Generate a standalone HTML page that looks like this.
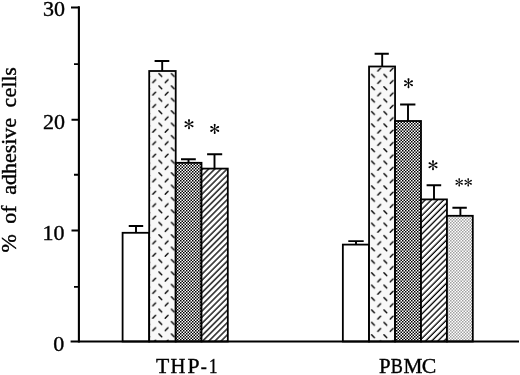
<!DOCTYPE html>
<html><head><meta charset="utf-8">
<style>
html,body{margin:0;padding:0;background:#fff;}
body{width:520px;height:375px;overflow:hidden;}
svg{display:block;will-change:transform;}
text{font-family:"Liberation Serif",serif;fill:#000;stroke:#000;stroke-width:0.4px;}
</style></head>
<body>
<svg width="520" height="375" viewBox="0 0 520 375">
<defs>
  <pattern id="dashA" patternUnits="userSpaceOnUse" x="157.3" y="71.9" width="12.4" height="12.4">
    <rect width="12.4" height="12.4" fill="#f8f8f8"/>
    <path d="M1.7 1.7 L4.5 4.5 M7.9 10.7 L10.7 7.9" stroke="#000" stroke-width="1.4" stroke-linecap="round"/>
  </pattern>
  <pattern id="dashB" patternUnits="userSpaceOnUse" x="369.9" y="72.7" width="12.4" height="12.4">
    <rect width="12.4" height="12.4" fill="#f8f8f8"/>
    <path d="M1.7 1.7 L4.5 4.5 M7.9 10.7 L10.7 7.9" stroke="#000" stroke-width="1.4" stroke-linecap="round"/>
  </pattern>
  <pattern id="chk" patternUnits="userSpaceOnUse" x="0" y="0" width="3" height="3">
    <rect width="3" height="3" fill="#fff"/>
    <rect width="1.5" height="1.5" fill="#000"/>
    <rect x="1.5" y="1.5" width="1.5" height="1.5" fill="#000"/>
  </pattern>
  <pattern id="chkL" patternUnits="userSpaceOnUse" x="0" y="0" width="3" height="3">
    <rect width="3" height="3" fill="#fff"/>
    <rect width="1.5" height="1.5" fill="#a0a0a0"/>
    <rect x="1.5" y="1.5" width="1.5" height="1.5" fill="#a0a0a0"/>
  </pattern>
  <pattern id="hatchA" patternUnits="userSpaceOnUse" width="4.3487" height="10" patternTransform="rotate(45)">
    <rect width="4.3487" height="10" fill="#fff"/>
    <rect x="1.118" width="1.3" height="10" fill="#000"/>
    <rect x="-3.231" width="1.3" height="10" fill="#000"/>
  </pattern>
  <pattern id="hatchB" patternUnits="userSpaceOnUse" width="4.3487" height="10" patternTransform="rotate(45)">
    <rect width="4.3487" height="10" fill="#fff"/>
    <rect x="2.178" width="1.3" height="10" fill="#000"/>
    <rect x="-2.170" width="1.3" height="10" fill="#000"/>
  </pattern>
</defs>

<!-- bars THP-1 -->
<g stroke="#000" stroke-width="1.8">
  <rect x="122.6" y="232.8" width="26.6" height="108.7" fill="#fff"/>
  <rect x="149.2" y="71" width="26.5" height="270.5" fill="url(#dashA)"/>
  <rect x="175.7" y="162.8" width="25.8" height="178.7" fill="url(#chk)"/>
  <rect x="201.5" y="168.6" width="26.3" height="172.9" fill="url(#hatchA)"/>
  <!-- PBMC -->
  <rect x="342.85" y="244.6" width="26.2" height="96.9" fill="#fff"/>
  <rect x="369.05" y="66.5" width="26" height="275" fill="url(#dashB)"/>
  <rect x="395.05" y="121" width="25.95" height="220.5" fill="url(#chk)"/>
  <rect x="421" y="199.4" width="25.95" height="142.1" fill="url(#hatchB)"/>
  <rect x="446.95" y="215.8" width="25.85" height="125.7" fill="url(#chkL)"/>
</g>

<!-- error bars -->
<g stroke="#000" stroke-width="1.9" fill="none">
  <path d="M128.75 226 H143.2 M136 226 V232.8"/>
  <path d="M154.6 61 H169.3 M162.2 61 V71"/>
  <path d="M181 159.2 H195.8 M188.5 159.2 V162.8"/>
  <path d="M207.1 154.3 H222.2 M214.5 154.3 V168.6"/>
  <path d="M348.3 241.1 H363.7 M356 241.1 V244.6"/>
  <path d="M374.6 53.75 H388.8 M382.2 53.75 V66.5"/>
  <path d="M400.1 104.5 H415.4 M408 104.5 V121"/>
  <path d="M426.6 185.2 H441.2 M434 185.2 V199.4"/>
  <path d="M452.4 207.8 H466.8 M460.4 207.8 V215.8"/>
</g>

<!-- axes -->
<g stroke="#000" fill="none">
  <path d="M78.9 6.3 V342.6" stroke-width="2.1"/>
  <path d="M70.6 341.5 H519" stroke-width="2.2"/>
  <path d="M71 7.4 H79 M71.5 119.7 H79 M71.5 230.6 H79" stroke-width="2"/>
  <path d="M74 64.1 H79 M74 174.7 H79 M74 286.9 H79" stroke-width="1.9"/>
</g>

<!-- tick labels -->
<g font-size="22" text-anchor="end">
  <text x="64.9" y="16.1">30</text>
  <text x="64.9" y="128.6">20</text>
  <text x="64.6" y="239.6">10</text>
  <text x="64.2" y="350.8">0</text>
</g>

<!-- axis label -->
<text font-size="22" transform="translate(15.9,252.5) rotate(-90)" word-spacing="5">% of adhesive cells</text>

<!-- category labels -->
<text font-size="21.5" transform="translate(156.02 373) scale(1.010 1)">T</text>
<text font-size="21.5" transform="translate(170.40 373) scale(0.962 1)">H</text>
<text font-size="21.5" transform="translate(187.38 373) scale(1.009 1)">P</text>
<text font-size="21.5" transform="translate(200.83 373) scale(0.846 1)">-</text>
<text font-size="21.5" transform="translate(209.08 373) scale(0.786 1)">1</text>
<text font-size="21.5" transform="translate(379.09 373) scale(0.972 1)">P</text>
<text font-size="21.5" transform="translate(390.85 373) scale(0.844 1)">B</text>
<text font-size="21.5" transform="translate(403.38 373) scale(0.990 1)">M</text>
<text font-size="21.5" transform="translate(421.81 373) scale(1.013 1)">C</text>

<!-- asterisks -->
<g fill="#000">
  <path d="M0.18 0.00 L0.98 -4.05 L0.93 -4.35 L0.79 -4.63 L0.58 -4.84 L0.30 -4.98 L0.00 -5.03 L-0.30 -4.98 L-0.58 -4.84 L-0.79 -4.63 L-0.93 -4.35 L-0.98 -4.05 L-0.18 -0.00ZM0.09 0.16 L4.00 -1.18 L4.24 -1.37 L4.40 -1.63 L4.48 -1.92 L4.47 -2.23 L4.36 -2.51 L4.16 -2.75 L3.91 -2.92 L3.61 -3.00 L3.30 -2.98 L3.02 -2.87 L-0.09 -0.16ZM-0.09 0.16 L3.02 2.87 L3.30 2.98 L3.61 3.00 L3.91 2.92 L4.16 2.75 L4.36 2.51 L4.47 2.23 L4.48 1.92 L4.40 1.63 L4.24 1.37 L4.00 1.18 L0.09 -0.16ZM-0.18 0.00 L-0.98 4.05 L-0.93 4.35 L-0.79 4.63 L-0.58 4.84 L-0.30 4.98 L0.00 5.03 L0.30 4.98 L0.58 4.84 L0.79 4.63 L0.93 4.35 L0.98 4.05 L0.18 -0.00ZM-0.09 -0.16 L-4.00 1.18 L-4.24 1.37 L-4.40 1.63 L-4.48 1.92 L-4.47 2.23 L-4.36 2.51 L-4.16 2.75 L-3.91 2.92 L-3.61 3.00 L-3.30 2.98 L-3.02 2.87 L0.09 0.16ZM0.09 -0.16 L-3.02 -2.87 L-3.30 -2.98 L-3.61 -3.00 L-3.91 -2.92 L-4.16 -2.75 L-4.36 -2.51 L-4.47 -2.23 L-4.48 -1.92 L-4.40 -1.63 L-4.24 -1.37 L-4.00 -1.18 L-0.09 0.16Z" transform="translate(189 124.2)"/>
  <path d="M0.18 0.00 L0.98 -4.05 L0.93 -4.35 L0.79 -4.63 L0.58 -4.84 L0.30 -4.98 L0.00 -5.03 L-0.30 -4.98 L-0.58 -4.84 L-0.79 -4.63 L-0.93 -4.35 L-0.98 -4.05 L-0.18 -0.00ZM0.09 0.16 L4.00 -1.18 L4.24 -1.37 L4.40 -1.63 L4.48 -1.92 L4.47 -2.23 L4.36 -2.51 L4.16 -2.75 L3.91 -2.92 L3.61 -3.00 L3.30 -2.98 L3.02 -2.87 L-0.09 -0.16ZM-0.09 0.16 L3.02 2.87 L3.30 2.98 L3.61 3.00 L3.91 2.92 L4.16 2.75 L4.36 2.51 L4.47 2.23 L4.48 1.92 L4.40 1.63 L4.24 1.37 L4.00 1.18 L0.09 -0.16ZM-0.18 0.00 L-0.98 4.05 L-0.93 4.35 L-0.79 4.63 L-0.58 4.84 L-0.30 4.98 L0.00 5.03 L0.30 4.98 L0.58 4.84 L0.79 4.63 L0.93 4.35 L0.98 4.05 L0.18 -0.00ZM-0.09 -0.16 L-4.00 1.18 L-4.24 1.37 L-4.40 1.63 L-4.48 1.92 L-4.47 2.23 L-4.36 2.51 L-4.16 2.75 L-3.91 2.92 L-3.61 3.00 L-3.30 2.98 L-3.02 2.87 L0.09 0.16ZM0.09 -0.16 L-3.02 -2.87 L-3.30 -2.98 L-3.61 -3.00 L-3.91 -2.92 L-4.16 -2.75 L-4.36 -2.51 L-4.47 -2.23 L-4.48 -1.92 L-4.40 -1.63 L-4.24 -1.37 L-4.00 -1.18 L-0.09 0.16Z" transform="translate(214.7 128.9)"/>
  <path d="M0.18 0.00 L0.98 -4.05 L0.93 -4.35 L0.79 -4.63 L0.58 -4.84 L0.30 -4.98 L0.00 -5.03 L-0.30 -4.98 L-0.58 -4.84 L-0.79 -4.63 L-0.93 -4.35 L-0.98 -4.05 L-0.18 -0.00ZM0.09 0.16 L4.00 -1.18 L4.24 -1.37 L4.40 -1.63 L4.48 -1.92 L4.47 -2.23 L4.36 -2.51 L4.16 -2.75 L3.91 -2.92 L3.61 -3.00 L3.30 -2.98 L3.02 -2.87 L-0.09 -0.16ZM-0.09 0.16 L3.02 2.87 L3.30 2.98 L3.61 3.00 L3.91 2.92 L4.16 2.75 L4.36 2.51 L4.47 2.23 L4.48 1.92 L4.40 1.63 L4.24 1.37 L4.00 1.18 L0.09 -0.16ZM-0.18 0.00 L-0.98 4.05 L-0.93 4.35 L-0.79 4.63 L-0.58 4.84 L-0.30 4.98 L0.00 5.03 L0.30 4.98 L0.58 4.84 L0.79 4.63 L0.93 4.35 L0.98 4.05 L0.18 -0.00ZM-0.09 -0.16 L-4.00 1.18 L-4.24 1.37 L-4.40 1.63 L-4.48 1.92 L-4.47 2.23 L-4.36 2.51 L-4.16 2.75 L-3.91 2.92 L-3.61 3.00 L-3.30 2.98 L-3.02 2.87 L0.09 0.16ZM0.09 -0.16 L-3.02 -2.87 L-3.30 -2.98 L-3.61 -3.00 L-3.91 -2.92 L-4.16 -2.75 L-4.36 -2.51 L-4.47 -2.23 L-4.48 -1.92 L-4.40 -1.63 L-4.24 -1.37 L-4.00 -1.18 L-0.09 0.16Z" transform="translate(408.5 83.2)"/>
  <path d="M0.18 0.00 L0.98 -4.05 L0.93 -4.35 L0.79 -4.63 L0.58 -4.84 L0.30 -4.98 L0.00 -5.03 L-0.30 -4.98 L-0.58 -4.84 L-0.79 -4.63 L-0.93 -4.35 L-0.98 -4.05 L-0.18 -0.00ZM0.09 0.16 L4.00 -1.18 L4.24 -1.37 L4.40 -1.63 L4.48 -1.92 L4.47 -2.23 L4.36 -2.51 L4.16 -2.75 L3.91 -2.92 L3.61 -3.00 L3.30 -2.98 L3.02 -2.87 L-0.09 -0.16ZM-0.09 0.16 L3.02 2.87 L3.30 2.98 L3.61 3.00 L3.91 2.92 L4.16 2.75 L4.36 2.51 L4.47 2.23 L4.48 1.92 L4.40 1.63 L4.24 1.37 L4.00 1.18 L0.09 -0.16ZM-0.18 0.00 L-0.98 4.05 L-0.93 4.35 L-0.79 4.63 L-0.58 4.84 L-0.30 4.98 L0.00 5.03 L0.30 4.98 L0.58 4.84 L0.79 4.63 L0.93 4.35 L0.98 4.05 L0.18 -0.00ZM-0.09 -0.16 L-4.00 1.18 L-4.24 1.37 L-4.40 1.63 L-4.48 1.92 L-4.47 2.23 L-4.36 2.51 L-4.16 2.75 L-3.91 2.92 L-3.61 3.00 L-3.30 2.98 L-3.02 2.87 L0.09 0.16ZM0.09 -0.16 L-3.02 -2.87 L-3.30 -2.98 L-3.61 -3.00 L-3.91 -2.92 L-4.16 -2.75 L-4.36 -2.51 L-4.47 -2.23 L-4.48 -1.92 L-4.40 -1.63 L-4.24 -1.37 L-4.00 -1.18 L-0.09 0.16Z" transform="translate(433 165.2)"/>
  <path d="M0.18 0.00 L0.98 -4.05 L0.93 -4.35 L0.79 -4.63 L0.58 -4.84 L0.30 -4.98 L0.00 -5.03 L-0.30 -4.98 L-0.58 -4.84 L-0.79 -4.63 L-0.93 -4.35 L-0.98 -4.05 L-0.18 -0.00ZM0.09 0.16 L4.00 -1.18 L4.24 -1.37 L4.40 -1.63 L4.48 -1.92 L4.47 -2.23 L4.36 -2.51 L4.16 -2.75 L3.91 -2.92 L3.61 -3.00 L3.30 -2.98 L3.02 -2.87 L-0.09 -0.16ZM-0.09 0.16 L3.02 2.87 L3.30 2.98 L3.61 3.00 L3.91 2.92 L4.16 2.75 L4.36 2.51 L4.47 2.23 L4.48 1.92 L4.40 1.63 L4.24 1.37 L4.00 1.18 L0.09 -0.16ZM-0.18 0.00 L-0.98 4.05 L-0.93 4.35 L-0.79 4.63 L-0.58 4.84 L-0.30 4.98 L0.00 5.03 L0.30 4.98 L0.58 4.84 L0.79 4.63 L0.93 4.35 L0.98 4.05 L0.18 -0.00ZM-0.09 -0.16 L-4.00 1.18 L-4.24 1.37 L-4.40 1.63 L-4.48 1.92 L-4.47 2.23 L-4.36 2.51 L-4.16 2.75 L-3.91 2.92 L-3.61 3.00 L-3.30 2.98 L-3.02 2.87 L0.09 0.16ZM0.09 -0.16 L-3.02 -2.87 L-3.30 -2.98 L-3.61 -3.00 L-3.91 -2.92 L-4.16 -2.75 L-4.36 -2.51 L-4.47 -2.23 L-4.48 -1.92 L-4.40 -1.63 L-4.24 -1.37 L-4.00 -1.18 L-0.09 0.16Z" transform="translate(459.2 182.3) scale(0.83)"/>
  <path d="M0.18 0.00 L0.98 -4.05 L0.93 -4.35 L0.79 -4.63 L0.58 -4.84 L0.30 -4.98 L0.00 -5.03 L-0.30 -4.98 L-0.58 -4.84 L-0.79 -4.63 L-0.93 -4.35 L-0.98 -4.05 L-0.18 -0.00ZM0.09 0.16 L4.00 -1.18 L4.24 -1.37 L4.40 -1.63 L4.48 -1.92 L4.47 -2.23 L4.36 -2.51 L4.16 -2.75 L3.91 -2.92 L3.61 -3.00 L3.30 -2.98 L3.02 -2.87 L-0.09 -0.16ZM-0.09 0.16 L3.02 2.87 L3.30 2.98 L3.61 3.00 L3.91 2.92 L4.16 2.75 L4.36 2.51 L4.47 2.23 L4.48 1.92 L4.40 1.63 L4.24 1.37 L4.00 1.18 L0.09 -0.16ZM-0.18 0.00 L-0.98 4.05 L-0.93 4.35 L-0.79 4.63 L-0.58 4.84 L-0.30 4.98 L0.00 5.03 L0.30 4.98 L0.58 4.84 L0.79 4.63 L0.93 4.35 L0.98 4.05 L0.18 -0.00ZM-0.09 -0.16 L-4.00 1.18 L-4.24 1.37 L-4.40 1.63 L-4.48 1.92 L-4.47 2.23 L-4.36 2.51 L-4.16 2.75 L-3.91 2.92 L-3.61 3.00 L-3.30 2.98 L-3.02 2.87 L0.09 0.16ZM0.09 -0.16 L-3.02 -2.87 L-3.30 -2.98 L-3.61 -3.00 L-3.91 -2.92 L-4.16 -2.75 L-4.36 -2.51 L-4.47 -2.23 L-4.48 -1.92 L-4.40 -1.63 L-4.24 -1.37 L-4.00 -1.18 L-0.09 0.16Z" transform="translate(468.2 182.3) scale(0.83)"/>
</g>
</svg>
</body></html>
